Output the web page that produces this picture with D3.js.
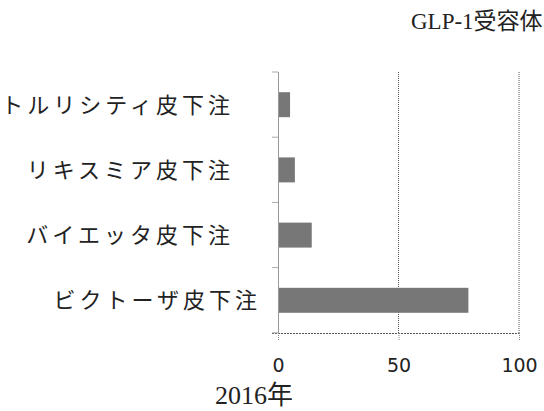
<!DOCTYPE html>
<html><head><meta charset="utf-8">
<script src="https://cdn.jsdelivr.net/npm/d3@7"></script>
<style>
html,body{margin:0;padding:0;background:#fff;overflow:hidden;}
svg{display:block;}
</style></head>
<body>
<script>
const categories = ["トルリシティ皮下注", "リキスミア皮下注", "バイエッタ皮下注", "ビクトーザ皮下注"];
const values = [5, 7, 14, 79];
const xTicks = [0, 50, 100];
const title = "GLP-1受容体";
const yearLabel = "2016年";

const W = 544, H = 411;
const svg = d3.select("body").append("svg").attr("width", W).attr("height", H);

const x = d3.scaleLinear().domain([0, 100]).range([278, 519]);
const y = d3.scaleBand().domain(categories).range([72, 333]).paddingInner(0.617).paddingOuter(0.31);

const serif = "'Liberation Serif','DejaVu Serif','Noto Sans CJK JP',serif";
const cjk = "'Liberation Serif','Noto Sans CJK JP',serif";

// title
svg.append("text").attr("x", 411).attr("y", 29)
  .attr("font-family", serif).attr("font-size", 23).attr("fill", "#222")
  .text(title);

// gridlines
svg.append("g").selectAll("line").data(xTicks.filter(t => t > 0)).join("line")
  .attr("x1", d => x(d)).attr("x2", d => x(d))
  .attr("y1", 72).attr("y2", 333)
  .attr("stroke", "#555").attr("stroke-width", 1).attr("stroke-dasharray", "1,1");

// bottom axis
const xAxis = d3.axisBottom(x).tickValues(xTicks).tickSize(7).tickPadding(19).tickFormat(d3.format("d"));
const gx = svg.append("g").attr("transform", "translate(0,333)").call(xAxis);
gx.select(".domain").attr("d", `M272,0.5H${x(100)}`).attr("stroke", "#555").attr("stroke-dasharray", "2,1");
gx.selectAll(".tick line").attr("stroke", "#888").attr("stroke-dasharray", "1,1");
gx.selectAll(".tick text").attr("font-family", "'DejaVu Sans',Verdana,sans-serif")
  .attr("font-size", 19).attr("fill", "#222");

// left axis
const yAxis = d3.axisLeft(y).tickSize(0).tickFormat("");
const gy = svg.append("g").attr("transform", `translate(${x(0)},0)`).call(yAxis);
gy.select(".domain").attr("d", "M0.5,72V333").attr("stroke", "#999");
// band boundary ticks
const bounds = d3.range(categories.length + 1).map(i => 72 + i * y.step());
svg.append("g").selectAll("line").data(bounds).join("line")
  .attr("x1", x(0) - 6).attr("x2", x(0)).attr("y1", d => d).attr("y2", d => d)
  .attr("stroke", "#aaa").attr("stroke-width", 1);

// bars
svg.append("g").selectAll("rect").data(categories).join("rect")
  .attr("x", x(0) + 1)
  .attr("y", d => y(d))
  .attr("width", (d, i) => x(values[i]) - x(0) - 1)
  .attr("height", y.bandwidth())
  .attr("fill", "#777");

// category labels
svg.append("g").selectAll("text").data(categories).join("text")
  .attr("x", (d, i) => i === categories.length - 1 ? 261 : 234)
  .attr("y", d => y(d) + y.bandwidth() / 2)
  .attr("dy", "0.36em")
  .attr("text-anchor", "end")
  .attr("font-family", cjk).attr("font-size", 22).attr("letter-spacing", 4)
  .attr("fill", "#222")
  .text(d => d);

// year label
svg.append("text").attr("x", 215).attr("y", 404)
  .attr("font-family", serif).attr("font-size", 26).attr("fill", "#222")
  .text(yearLabel);
</script>
</body></html>
